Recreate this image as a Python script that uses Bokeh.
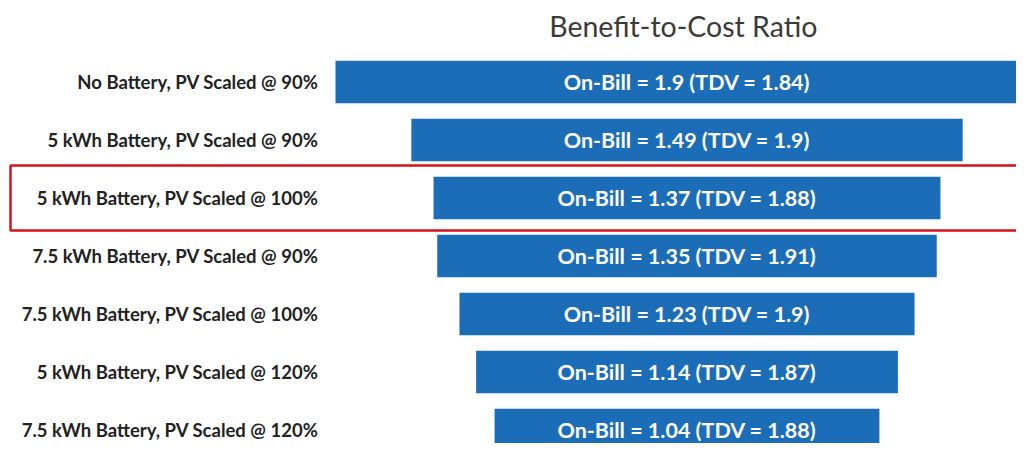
from bokeh.plotting import figure
from bokeh.models import Range1d, ColumnDataSource
from bokeh.core.properties import value
from bokeh.embed import file_html
from bokeh.resources import INLINE

scenarios = [
    "No Battery, PV Scaled @ 90%",
    "5 kWh Battery, PV Scaled @ 90%",
    "5 kWh Battery, PV Scaled @ 100%",
    "7.5 kWh Battery, PV Scaled @ 90%",
    "7.5 kWh Battery, PV Scaled @ 100%",
    "5 kWh Battery, PV Scaled @ 120%",
    "7.5 kWh Battery, PV Scaled @ 120%",
]
on_bill = [1.9, 1.49, 1.37, 1.35, 1.23, 1.14, 1.04]
tdv = [1.84, 1.9, 1.88, 1.91, 1.9, 1.87, 1.88]
highlight_index = 2
title_text = "Benefit-to-Cost Ratio"

rows = list(range(len(scenarios)))
labels = ["On-Bill = %s (TDV = %s)" % (a, b) for a, b in zip(on_bill, tdv)]

W, H = 1016, 443
PX = 370.0          # pixels per unit
CX = 686.5          # frame px of centre
ROW0 = 81.5         # frame px of first row
PITCH = 58.0

x_start = -CX / PX
x_end = (W - CX) / PX
y_top = -ROW0 / PITCH
y_bot = (H - ROW0) / PITCH

p = figure(width=W, height=H, output_backend="svg", toolbar_location=None,
           x_range=Range1d(x_start, x_end), y_range=Range1d(y_bot, y_top),
           min_border=0, outline_line_color=None)
p.axis.visible = False
p.grid.visible = False
p.background_fill_color = "white"
p.border_fill_color = "white"

src = ColumnDataSource(dict(y=rows, w=on_bill, name=scenarios, lab=labels,
                            zero=[0.0] * len(rows)))
src.data["l"] = [-v / 2 for v in on_bill]
src.data["r"] = [v / 2 for v in on_bill]
p.hbar(y="y", left="l", right="r", height=0.73, source=src,
       fill_color="#1b6db8", line_color=None)

p.text(x="zero", y="y", text="lab", source=src, text_color="white",
       text_font=value("Lato"), text_font_style="bold", text_font_size="21.5px",
       text_align="center", text_baseline="middle")

lab_x = (318 - CX) / PX
p.text(x=lab_x, y="y", text="name", source=src, text_color="#222222",
       text_font=value("Lato"), text_font_style="bold", text_font_size="18.5px",
       text_align="right", text_baseline="middle")

# highlight box
box_left = (10 - CX) / PX
p.quad(left=[box_left], right=[x_end + 0.1],
       bottom=[rows[highlight_index] - 0.56], top=[rows[highlight_index] + 0.56],
       fill_color=None, line_color="#d2141c", line_width=2.5)

title_y = (25 - ROW0) / PITCH
p.text(x=[-0.01], y=[title_y], text=[title_text], text_color="#3a3a3a",
       text_font=value("Lato"), text_font_size="28.5px",
       text_align="center", text_baseline="middle")

open("out.html", "w").write(file_html(p, INLINE))
